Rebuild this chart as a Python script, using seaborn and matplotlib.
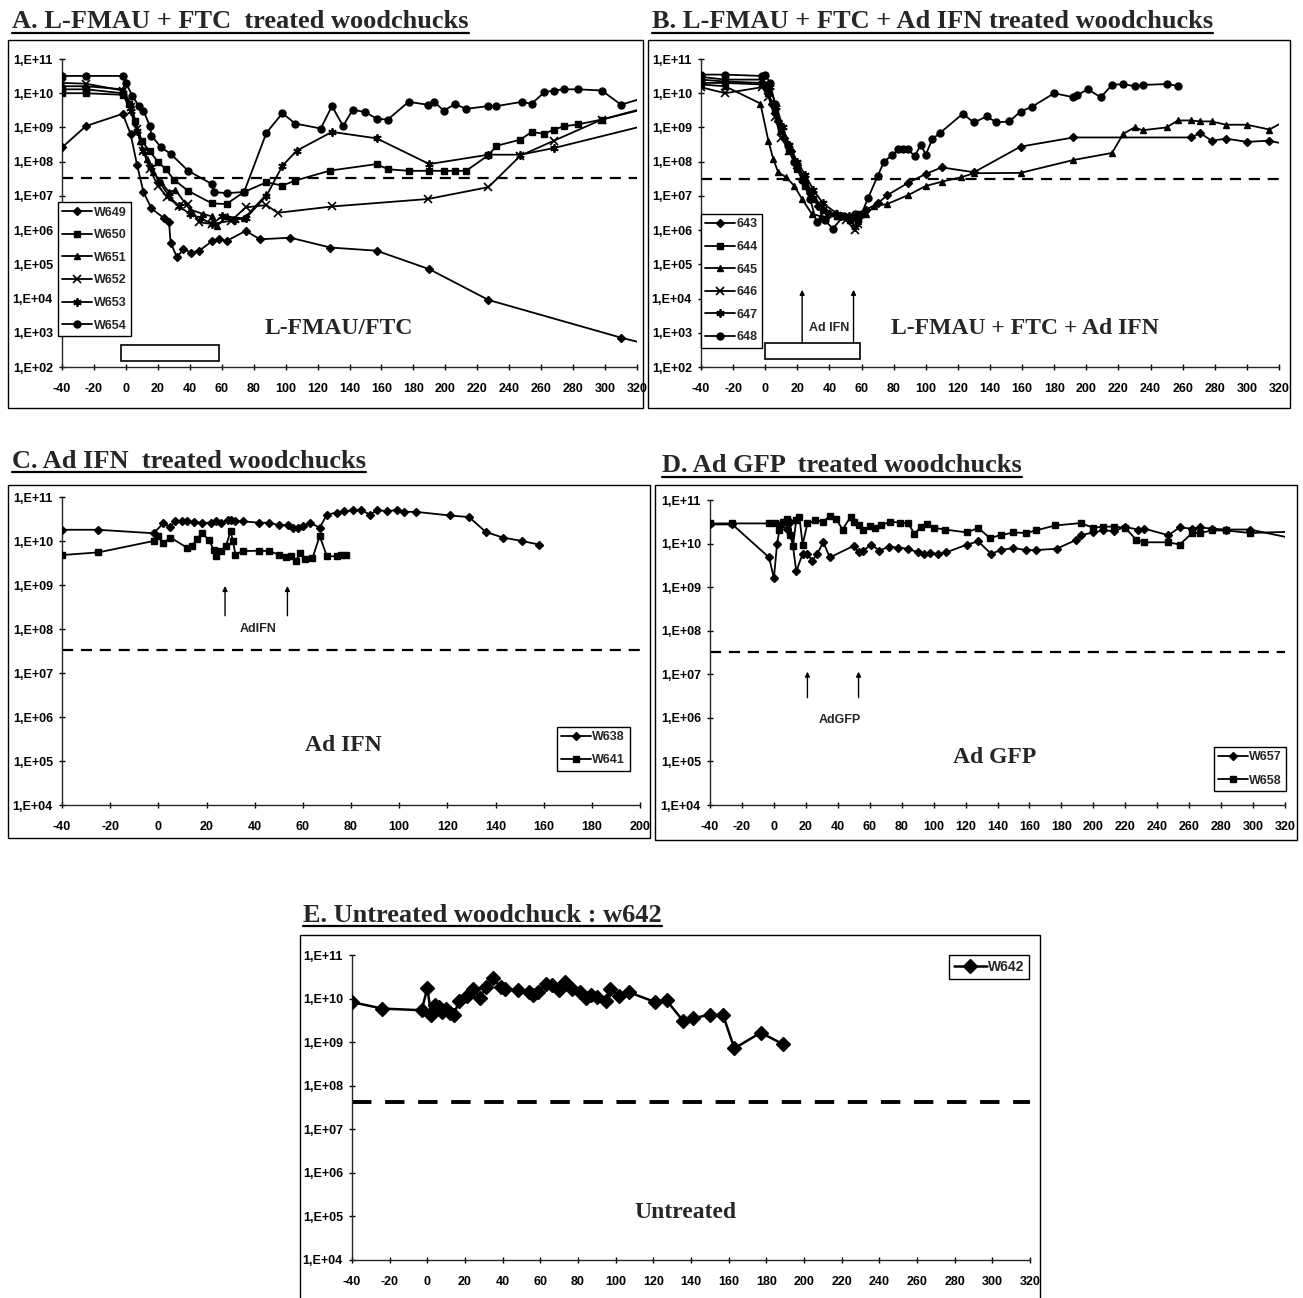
import numpy as np
import pandas as pd
import matplotlib
matplotlib.use('Agg')
import matplotlib.pyplot as plt
import seaborn as sns
from matplotlib import font_manager
from matplotlib.patches import Rectangle
from matplotlib.lines import Line2D
from matplotlib.ticker import FixedLocator, FuncFormatter, NullLocator

# ---------------- data (days, viremia) ----------------
# A. L-FMAU + FTC
a_days_w649 = [-40, -25, -2, 3, 7, 11, 16, 24, 27, 28, 32, 36, 41, 46, 54, 58, 63, 75, 84, 103, 128, 157, 190, 227, 310, 330]
a_vals_w649 = [2.6e8, 1.1e9, 2.5e9, 6.3e8, 8e7, 1.3e7, 4.3e6, 2.2e6, 1.7e6, 4.3e5, 1.6e5, 2.8e5, 2.2e5, 2.5e5, 4.8e5,
               5.6e5, 4.8e5, 9.5e5, 5.4e5, 6e5, 3.1e5, 2.5e5, 7.2e4, 9.1e3, 7.2e2, 4.2e2]
a_days_w650 = [-40, -25, -2, 2, 6, 10, 15, 20, 25, 30, 39, 54, 63, 74, 88, 98, 106, 128, 157, 164, 177, 190, 199, 206,
               213, 227, 232, 247, 254, 262, 268, 274, 283, 298, 330]
a_vals_w650 = [1.0e10, 1.0e10, 9e9, 5e9, 1.5e9, 4e8, 2e8, 1e8, 6e7, 3e7, 1.4e7, 6e6, 5.8e6, 1.3e7, 2.5e7, 2e7, 2.8e7,
               5.5e7, 8.5e7, 6e7, 5.4e7, 5.4e7, 5.4e7, 5.4e7, 5.4e7, 1.55e8, 2.9e8, 4.4e8, 7.4e8, 6.5e8, 8.7e8, 1.07e9,
               1.23e9, 1.7e9, 4.3e9]
a_days_w651 = [-40, -25, -2, 3, 6, 9, 13, 17, 22, 27, 31, 40, 48, 54, 57, 63, 74, 88]
a_vals_w651 = [1.6e10, 1.6e10, 1.3e10, 5e9, 1.5e9, 4e8, 1.2e8, 5e7, 2.5e7, 1.3e7, 1.5e7, 4e6, 3e6, 2.5e6, 1.3e6, 2.5e6,
               2.2e6, 1.1e7]
a_days_w652 = [-40, -25, -2, 3, 7, 11, 15, 20, 26, 33, 39, 46, 54, 66, 75, 88, 95, 129, 189, 227, 247, 268, 298, 330]
a_vals_w652 = [2e10, 1.9e10, 1.2e10, 4e9, 9e8, 2e8, 6e7, 2e7, 9e6, 5.1e6, 5.8e6, 1.7e6, 1.5e6, 1.9e6, 4.6e6, 5.4e6,
               3.2e6, 4.9e6, 8.1e6, 1.8e7, 1.5e8, 4.1e8, 1.7e9, 4.0e9]
a_days_w653 = [-40, -25, -2, 3, 7, 11, 16, 21, 27, 33, 40, 47, 54, 60, 68, 75, 88, 98, 107, 129, 157, 190, 227, 247,
               268, 330]
a_vals_w653 = [1.3e10, 1.3e10, 1e10, 3e9, 8e8, 2e8, 7e7, 2.5e7, 1e7, 5e6, 3e6, 2.2e6, 1.5e6, 2.5e6, 2e6, 2.2e6, 1e7,
               7.6e7, 2.1e8, 7.4e8, 4.8e8, 8.5e7, 1.6e8, 1.6e8, 2.5e8, 1.3e9]
a_days_w654 = [-40, -25, -2, 0, 4, 8, 11, 15, 16, 22, 28, 39, 54, 55, 63, 74, 88, 98, 106, 122, 129, 136, 142, 150,
               157, 164, 177, 189, 193, 199, 206, 213, 227, 232, 248, 254, 262, 268, 274, 283, 298, 310, 330]
a_vals_w654 = [3.2e10, 3.2e10, 3.2e10, 2e10, 8.5e9, 4.3e9, 3.1e9, 1.1e9, 5.8e8, 2.6e8, 1.7e8, 5.4e7, 2.2e7, 1.3e7,
               1.2e7, 1.3e7, 7e8, 2.6e9, 1.3e9, 9.3e8, 4.2e9, 1.1e9, 3.3e9, 2.8e9, 1.8e9, 1.7e9, 5.6e9, 4.6e9, 5.6e9,
               3.1e9, 4.8e9, 3.5e9, 4.2e9, 4.2e9, 5.6e9, 4.9e9, 1.07e10, 1.2e10, 1.3e10, 1.3e10, 1.2e10, 4.6e9, 8.9e9]

# B. L-FMAU + FTC + Ad IFN
b_days_643 = [-40, -25, -2, 1, 4, 8, 12, 16, 20, 24, 28, 33, 40, 47, 53, 57, 63, 70, 76, 89, 100, 110, 130, 159, 192,
              265, 271, 278, 287, 300, 314, 330]
b_vals_643 = [2.5e10, 2.2e10, 2.0e10, 1.5e10, 5e9, 1.5e9, 5e8, 2e8, 8e7, 3e7, 1.2e7, 5e6, 3e6, 2.5e6, 2.2e6, 2.5e6,
              4e6, 6e6, 1.05e7, 2.4e7, 4.4e7, 6.8e7, 4.9e7, 2.75e8, 5.1e8, 5.1e8, 6.8e8, 4.1e8, 4.7e8, 3.8e8, 4.1e8,
              2.8e8]
b_days_644 = [-40, -25, -2, 2, 6, 10, 15, 20, 25, 30, 36, 45, 53, 56, 58]
b_vals_644 = [2e10, 2e10, 1.8e10, 1e10, 3e9, 8e8, 2e8, 6e7, 2e7, 8e6, 4e6, 2.5e6, 2e6, 2.5e6, 3e6]
b_days_645 = [-40, -25, -3, 2, 5, 8, 13, 18, 23, 29, 35, 45, 53, 58, 63, 68, 76, 89, 100, 110, 122, 130, 159, 192,
              216, 223, 230, 235, 250, 257, 265, 271, 278, 287, 300, 314, 330]
b_vals_645 = [1.8e10, 1.6e10, 5e9, 4e8, 1.2e8, 5e7, 3.5e7, 2e7, 8e6, 3e6, 2.5e6, 2.5e6, 2e6, 1.8e6, 3e6, 5e6, 5.8e6,
              1.05e7, 1.95e7, 2.6e7, 3.5e7, 4.6e7, 4.7e7, 1.12e8, 1.8e8, 6.5e8, 1e9, 8.3e8, 1e9, 1.6e9, 1.6e9, 1.5e9,
              1.5e9, 1.2e9, 1.2e9, 8.7e8, 2.2e9]
b_days_646 = [-40, -25, -2, 2, 6, 10, 15, 20, 25, 30, 35, 42, 50, 56, 58]
b_vals_646 = [1.5e10, 1e10, 1.5e10, 8e9, 2e9, 5e8, 2e8, 8e7, 3e7, 1e7, 5e6, 3e6, 2e6, 1e6, 1.5e6]
b_days_647 = [-40, -25, -2, 3, 7, 11, 15, 20, 25, 30, 36, 45, 52, 56, 58]
b_vals_647 = [3e10, 2.5e10, 2.5e10, 1.5e10, 4e9, 1e9, 3e8, 1e8, 4e7, 1.5e7, 6e6, 3e6, 2.5e6, 1.2e6, 2e6]
b_days_648 = [-40, -25, -2, 0, 3, 6, 10, 14, 18, 23, 28, 32, 37, 42, 49, 56, 60, 64, 70, 74, 79, 83, 86, 89, 93, 97,
              100, 104, 109, 123, 130, 138, 144, 152, 159, 166, 180, 192, 194, 201, 209, 216, 223, 230, 235, 250, 257]
b_vals_648 = [3.5e10, 3.5e10, 3.2e10, 3.5e10, 2e10, 5e9, 1e9, 3e8, 1e8, 3e7, 8e6, 1.7e6, 2e6, 1.1e6, 2.6e6, 3e6, 3e6,
              8.5e6, 3.8e7, 1e8, 1.55e8, 2.3e8, 2.3e8, 2.3e8, 1.45e8, 3.1e8, 1.6e8, 4.5e8, 7e8, 2.5e9, 1.4e9, 2.1e9,
              1.4e9, 1.5e9, 2.9e9, 4e9, 1e10, 7.6e9, 8.7e9, 1.3e10, 7.6e9, 1.75e10, 1.85e10, 1.6e10, 1.75e10, 1.85e10,
              1.65e10]

# C. Ad IFN
c_days_w638 = [-40, -25, -2, 2, 5, 7, 10, 12, 15, 18, 22, 24, 26, 29, 30, 32, 35, 42, 46, 50, 54, 56, 58, 60, 63, 67,
               70, 74, 77, 81, 84, 88, 91, 95, 99, 102, 107, 121, 129, 136, 143, 151, 158]
c_vals_w638 = [1.8e10, 1.8e10, 1.5e10, 2.5e10, 2.1e10, 2.8e10, 2.8e10, 2.8e10, 2.7e10, 2.6e10, 2.6e10, 2.8e10, 2.6e10,
               3e10, 3e10, 2.8e10, 2.8e10, 2.6e10, 2.6e10, 2.3e10, 2.3e10, 2e10, 2e10, 2.2e10, 2.6e10, 2e10, 4e10,
               4.4e10, 4.7e10, 5e10, 5e10, 4e10, 5.1e10, 4.7e10, 5.1e10, 4.6e10, 4.6e10, 3.8e10, 3.5e10, 1.6e10,
               1.2e10, 1e10, 8.3e9]
c_days_w641 = [-40, -25, -2, 0, 2, 5, 12, 14, 16, 18, 21, 23, 24, 26, 28, 30, 31, 32, 35, 42, 46, 50, 53, 55, 57, 59,
               61, 64, 67, 70, 74, 76, 78]
c_vals_w641 = [4.8e9, 5.5e9, 1e10, 1.3e10, 9e9, 1.2e10, 7e9, 7.8e9, 1.1e10, 1.5e10, 1.07e10, 6.3e9, 4.5e9, 5.9e9,
               7.6e9, 1.65e10, 1e10, 4.9e9, 5.9e9, 6e9, 5.9e9, 4.9e9, 4.4e9, 4.5e9, 3.5e9, 5.4e9, 3.8e9, 4.1e9, 1.3e10,
               4.5e9, 4.5e9, 4.7e9, 4.9e9]

# D. Ad GFP
d_days_w657 = [-40, -26, -3, 0, 2, 4, 8, 10, 14, 18, 21, 24, 27, 31, 35, 50, 53, 56, 61, 66, 72, 78, 84, 90, 94, 98,
               103, 108, 121, 128, 136, 142, 150, 158, 164, 177, 189, 192, 200, 206, 213, 220, 228, 232, 247, 254,
               262, 267, 274, 283, 298, 330]
d_vals_w657 = [2.75e10, 2.75e10, 4.8e9, 1.6e9, 1e10, 2.6e10, 2.2e10, 3.2e10, 2.3e9, 5.8e9, 5.8e9, 4e9, 5.8e9, 1.07e10,
               4.8e9, 8.9e9, 6.3e9, 6.9e9, 9.5e9, 6.9e9, 8.5e9, 8.1e9, 7.6e9, 6.3e9, 5.8e9, 6e9, 5.8e9, 6.3e9, 9.5e9,
               1.12e10, 5.8e9, 7.1e9, 7.9e9, 7.1e9, 7.1e9, 7.6e9, 1.2e10, 1.55e10, 1.8e10, 2e10, 1.95e10, 2.4e10,
               2.1e10, 2.2e10, 1.55e10, 2.35e10, 2.2e10, 2.35e10, 2.2e10, 2.1e10, 2.1e10, 1.2e10]
d_days_w658 = [-40, -26, -3, 1, 3, 6, 8, 10, 12, 14, 16, 18, 21, 26, 31, 35, 39, 43, 48, 50, 53, 56, 60, 63, 67, 73,
               79, 84, 88, 92, 96, 100, 107, 121, 128, 135, 142, 150, 158, 164, 176, 192, 200, 206, 213, 220, 227,
               232, 247, 254, 262, 267, 274, 283, 298, 330]
d_vals_w658 = [2.9e10, 2.9e10, 2.9e10, 2.9e10, 2e10, 3.2e10, 3.7e10, 1.6e10, 8.9e9, 3.5e10, 4e10, 9.5e9, 2.9e10,
               3.4e10, 3.2e10, 4.3e10, 3.7e10, 2.1e10, 4.1e10, 3.2e10, 2.6e10, 2e10, 2.5e10, 2.3e10, 2.6e10, 3.2e10,
               3e10, 2.9e10, 1.7e10, 2.4e10, 2.75e10, 2.3e10, 2.1e10, 1.8e10, 2.3e10, 1.35e10, 1.55e10, 1.8e10,
               1.75e10, 2e10, 2.6e10, 2.95e10, 2.3e10, 2.45e10, 2.45e10, 2.3e10, 1.2e10, 1.07e10, 1.07e10, 9.5e9,
               1.75e10, 1.75e10, 2e10, 2e10, 1.75e10, 1.9e10]

# E. Untreated
e_days_w642 = [-40, -24, -3, 0, 2, 4, 6, 8, 10, 12, 14, 17, 21, 24, 28, 31, 35, 39, 41, 48, 54, 56, 59, 63, 66, 70,
               73, 77, 81, 84, 87, 90, 95, 97, 102, 107, 121, 127, 136, 141, 150, 157, 163, 177, 189]
e_vals_w642 = [8.3e9, 5.9e9, 5.4e9, 1.75e10, 4.2e9, 7.1e9, 6.5e9, 5e9, 5.9e9, 4.6e9, 4.3e9, 8.9e9, 1.12e10, 1.7e10,
               1.05e10, 1.8e10, 2.95e10, 1.8e10, 1.7e10, 1.55e10, 1.4e10, 1.2e10, 1.4e10, 2.2e10, 2.1e10, 1.55e10,
               2.4e10, 1.7e10, 1.4e10, 1.05e10, 1.2e10, 1.1e10, 8.7e9, 1.7e10, 1.15e10, 1.4e10, 8.3e9, 9.1e9, 3e9,
               3.5e9, 4.3e9, 4.2e9, 7.2e8, 1.65e9, 8.9e8]

cutoff = [3.4e7, 3.2e7, 3.3e7, 3.3e7, 4.3e7]  # detection limit lines A..E

# ---------------- style ----------------
sns.set_style('ticks')
names = {f.name for f in font_manager.fontManager.ttflist}
narrow = 'Liberation Sans Narrow' if 'Liberation Sans Narrow' in names else 'Liberation Sans'
serif = 'Liberation Serif'
plt.rcParams['font.family'] = [narrow, 'DejaVu Sans']
plt.rcParams['axes.linewidth'] = 1.0
plt.rcParams['axes.unicode_minus'] = False

W, H = 1303, 1298
fig = plt.figure(figsize=(W / 100, H / 100), dpi=100)
fig.patch.set_facecolor('white')


def px_axes(left, top, right, bottom):
    return fig.add_axes([left / W, 1 - bottom / H, (right - left) / W, (bottom - top) / H])


def frame(x0, y0, x1, y1):
    fig.add_artist(Rectangle((x0 / W, 1 - y1 / H), (x1 - x0) / W, (y1 - y0) / H,
                             transform=fig.transFigure, fill=False, ec='black', lw=1.0))


def setup(ax, xmax, ymin, cut, dash_lw=1.6):
    ax.set_yscale('log')
    ax.set_xlim(-40, xmax)
    ax.set_ylim(ymin, 1e11)
    exps = range(int(np.log10(ymin)), 12)
    ax.yaxis.set_major_locator(FixedLocator([10.0 ** e for e in exps]))
    ax.yaxis.set_minor_locator(NullLocator())
    ax.yaxis.set_major_formatter(FuncFormatter(lambda v, p: '1,E+%02d' % int(round(np.log10(v)))))
    ax.xaxis.set_major_locator(FixedLocator(list(range(-40, xmax + 1, 20))))
    ax.tick_params(axis='both', direction='inout', length=5, width=1, colors='black',
                   labelsize=9)
    ax.tick_params(axis='x', pad=9)
    ax.tick_params(axis='y', pad=4)
    sns.despine(ax=ax)
    ax.patch.set_alpha(0)
    ax.axhline(cut, color='black', lw=dash_lw, dashes=(5, 3.5), zorder=1)


def finish(ax):
    ax.set_xlabel('')
    ax.set_ylabel('')
    for lab in ax.get_xticklabels() + ax.get_yticklabels():
        lab.set_fontweight('bold')


def draw(ax, days, vals, label, marker, ms=5, lw=1.3, mew=1.0):
    df = pd.DataFrame({'day': days, 'value': vals})
    sns.lineplot(data=df, x='day', y='value', ax=ax, color='black', lw=lw, marker=marker,
                 markersize=ms, markeredgecolor='black', markerfacecolor='black', markeredgewidth=mew,
                 estimator=None, sort=False, label=label, zorder=3)


def legend(ax, anchor, loc, size=9, spacing=0.75):
    leg = ax.legend(loc=loc, bbox_to_anchor=anchor, frameon=True, fancybox=False, framealpha=1,
                    edgecolor='black', handlelength=2.4, handletextpad=0.1, borderpad=0.35,
                    labelspacing=spacing, borderaxespad=0,
                    prop={'family': [narrow, 'DejaVu Sans'], 'weight': 'bold', 'size': size})
    leg.get_frame().set_linewidth(1.0)
    return leg


def arrow(ax, x, y0, y1):
    ax.annotate('', xy=(x, y1), xytext=(x, y0),
                arrowprops=dict(arrowstyle='-|>', color='black', lw=1.0, mutation_scale=7,
                                shrinkA=0, shrinkB=0))


big = dict(family=serif, weight='bold', size=17, ha='center', va='center')
small = dict(family=[narrow, 'DejaVu Sans'], weight='bold', size=9, ha='center', va='center')
asterisk = (6, 2, 0)

# ---------------- panel A ----------------
frame(8, 40, 643, 408)
axA = px_axes(62, 59, 637, 367)
setup(axA, 320, 1e2, cutoff[0])
draw(axA, a_days_w649, a_vals_w649, 'W649', 'D', ms=4.5)
draw(axA, a_days_w650, a_vals_w650, 'W650', 's', ms=4.5)
draw(axA, a_days_w651, a_vals_w651, 'W651', '^', ms=5)
draw(axA, a_days_w652, a_vals_w652, 'W652', 'x', ms=5.5, mew=1.2)
draw(axA, a_days_w653, a_vals_w653, 'W653', asterisk, ms=6, mew=1.3)
draw(axA, a_days_w654, a_vals_w654, 'W654', 'o', ms=5)
legend(axA, (-0.007, 0.535), 'upper left', size=9, spacing=0.85)
axA.add_patch(Rectangle((-3, 1.45e2), 61, 4.4e2 - 1.45e2, fc='white', ec='black', lw=1.2, zorder=2))
axA.text(133, 1.3e3, 'L-FMAU/FTC', **big)
finish(axA)

# ---------------- panel B ----------------
frame(648, 40, 1290, 408)
axB = px_axes(701, 59, 1279, 367)
setup(axB, 320, 1e2, cutoff[1])
draw(axB, b_days_643, b_vals_643, '643', 'D', ms=4.5)
draw(axB, b_days_644, b_vals_644, '644', 's', ms=4.5)
draw(axB, b_days_645, b_vals_645, '645', '^', ms=5)
draw(axB, b_days_646, b_vals_646, '646', 'x', ms=5.5, mew=1.2)
draw(axB, b_days_647, b_vals_647, '647', asterisk, ms=6, mew=1.3)
draw(axB, b_days_648, b_vals_648, '648', 'o', ms=5)
legend(axB, (0.0, 0.497), 'upper left', size=9, spacing=0.85)
axB.add_patch(Rectangle((0, 1.7e2), 59, 5e2 - 1.7e2, fc='white', ec='black', lw=1.2, zorder=2))
arrow(axB, 23, 5e2, 1.8e4)
arrow(axB, 55, 5e2, 1.8e4)
axB.text(40, 1.4e3, 'Ad IFN', **small)
axB.text(162, 1.3e3, 'L-FMAU + FTC + Ad IFN', **big)
finish(axB)

# ---------------- panel C ----------------
frame(8, 485, 650, 838)
axC = px_axes(62, 497, 640, 805)
setup(axC, 200, 1e4, cutoff[2])
draw(axC, c_days_w638, c_vals_w638, 'W638', 'D', ms=4.5)
draw(axC, c_days_w641, c_vals_w641, 'W641', 's', ms=4.5)
legend(axC, (0.856, 0.254), 'upper left', size=9, spacing=0.9)
arrow(axC, 27.7, 2e8, 9.5e8)
arrow(axC, 53.6, 2e8, 9.5e8)
axC.text(41.5, 1.0e8, 'AdIFN', **small)
axC.text(77, 2.2e5, 'Ad IFN', **big)
finish(axC)

# ---------------- panel D ----------------
frame(655, 485, 1297, 840)
axD = px_axes(710, 500, 1285, 805)
setup(axD, 320, 1e4, cutoff[3])
draw(axD, d_days_w657, d_vals_w657, 'W657', 'D', ms=4.5)
draw(axD, d_days_w658, d_vals_w658, 'W658', 's', ms=4.5)
legend(axD, (0.876, 0.19), 'upper left', size=9, spacing=0.9)
arrow(axD, 21, 2.9e6, 1.15e7)
arrow(axD, 53, 2.9e6, 1.15e7)
axD.text(41, 9e5, 'AdGFP', **small)
axD.text(138, 1.2e5, 'Ad GFP', **big)
finish(axD)

# ---------------- panel E ----------------
frame(300, 935, 1040, 1310)
axE = px_axes(352, 955, 1030, 1260)
setup(axE, 320, 1e4, cutoff[4], dash_lw=2.8)
draw(axE, e_days_w642, e_vals_w642, 'W642', 'D', ms=7, lw=1.8)
legend(axE, (0.88, 1.0), 'upper left', size=10, spacing=0.5)
axE.text(137, 1.25e5, 'Untreated', **big)
finish(axE)

# ---------------- underlined titles ----------------
titles = [
    (12, 22, 'A. L-FMAU + FTC  treated woodchucks'),
    (652, 22, 'B. L-FMAU + FTC + Ad IFN treated woodchucks'),
    (12, 462, 'C. Ad IFN  treated woodchucks'),
    (662, 466, 'D. Ad GFP  treated woodchucks'),
    (303, 915, 'E. Untreated woodchuck : w642'),
]
text_objs = [fig.text(x / W, 1 - y / H, s, family=serif, weight='bold', size=19, ha='left', va='center')
             for x, y, s in titles]
fig.canvas.draw()
rend = fig.canvas.get_renderer()
for t in text_objs:
    bb = t.get_window_extent(rend)
    yy = (bb.y0 + 1) / H
    fig.add_artist(Line2D([bb.x0 / W, bb.x1 / W], [yy, yy], transform=fig.transFigure, color='black', lw=1.6))

fig.savefig('out.png', dpi=100, facecolor='white')
